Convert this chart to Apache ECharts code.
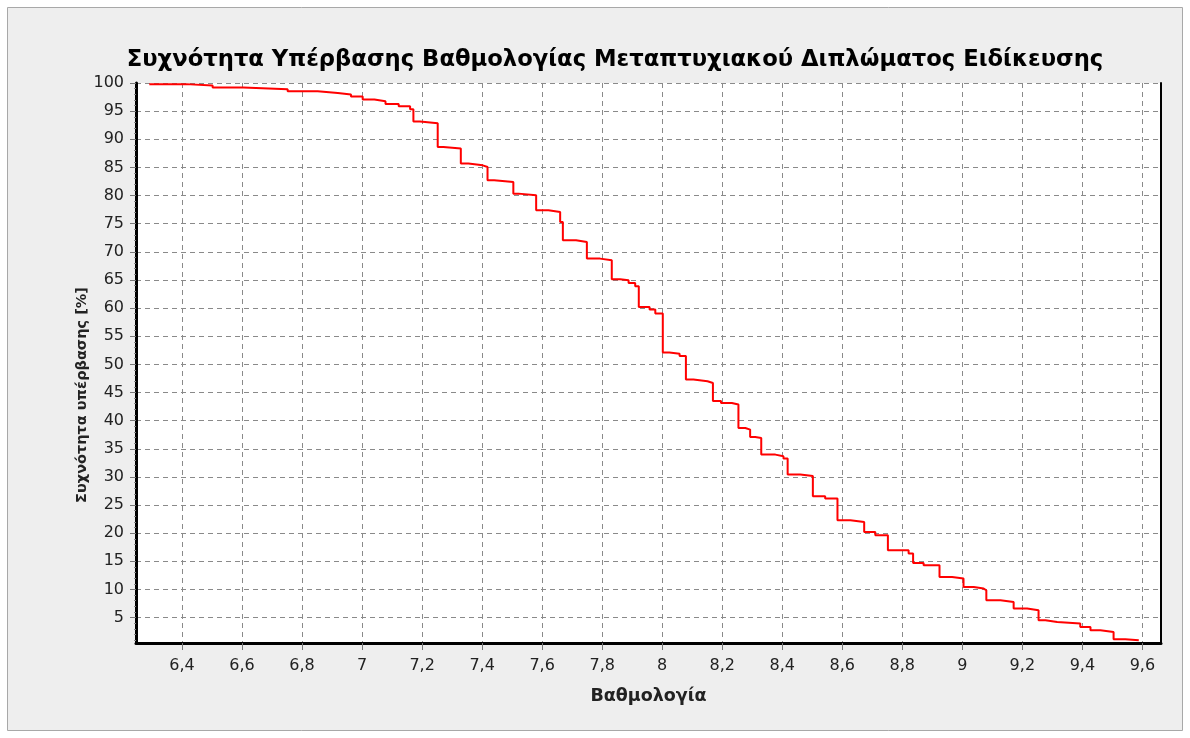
<!DOCTYPE html>
<html>
<head>
<meta charset="utf-8">
<script src="https://cdn.jsdelivr.net/npm/echarts@6/dist/echarts.min.js"></script>
<style>
  html, body { margin: 0; padding: 0; background: #fff; }
  #main { width: 1190px; height: 738px; }
</style>
</head>
<body>
<div id="main"></div>
<script>
// grade (x) and exceedance frequency in % (y)
var grades = [6.291, 6.413, 6.502, 6.604, 6.752, 6.852, 6.919, 6.963, 7.002, 7.041,
  7.078, 7.122, 7.160, 7.171, 7.193, 7.252, 7.271, 7.329, 7.354, 7.402,
  7.418, 7.440, 7.504, 7.521, 7.580, 7.621, 7.660, 7.669, 7.713, 7.749,
  7.793, 7.832, 7.860, 7.888, 7.910, 7.922, 7.958, 7.977, 8.002, 8.024,
  8.058, 8.079, 8.104, 8.151, 8.169, 8.196, 8.232, 8.254, 8.277, 8.293,
  8.310, 8.330, 8.377, 8.404, 8.418, 8.460, 8.502, 8.543, 8.584, 8.627,
  8.673, 8.710, 8.752, 8.821, 8.836, 8.871, 8.924, 8.966, 9.004, 9.038,
  9.071, 9.080, 9.127, 9.171, 9.216, 9.254, 9.277, 9.316, 9.393, 9.427,
  9.460, 9.504, 9.543, 9.588];
var exceedance = [99.8, 99.54, 99.18, 98.88, 98.52, 98.22, 97.94, 97.58, 97.05, 96.75,
  96.27, 95.86, 95.33, 93.16, 92.84, 88.63, 88.34, 85.68, 85.37, 85.07,
  82.71, 82.41, 80.34, 80.04, 77.38, 77.08, 75.3, 72.05, 71.74, 68.79,
  68.49, 65.11, 64.94, 64.46, 63.87, 60.19, 59.73, 59.02, 52.09, 51.87,
  51.48, 47.29, 46.99, 46.69, 43.49, 43.13, 42.85, 38.69, 38.4, 37.09,
  36.91, 33.96, 33.66, 33.25, 30.41, 30.16, 26.55, 26.14, 22.29, 21.98,
  20.21, 19.62, 16.96, 16.37, 14.7, 14.29, 12.21, 11.93, 10.43, 10.15,
  9.85, 8.08, 7.77, 6.6, 6.29, 4.52, 4.21, 3.93, 3.32, 2.74,
  2.44, 1.15, 0.97, 0.97];

var xTicks = [6.4, 6.6, 6.8, 7, 7.2, 7.4, 7.6, 7.8, 8, 8.2, 8.4, 8.6, 8.8, 9, 9.2, 9.4, 9.6];
var yTicks = [5, 10, 15, 20, 25, 30, 35, 40, 45, 50, 55, 60, 65, 70, 75, 80, 85, 90, 95, 100];

// small unlabelled ticks on the y axis, one per unit
var yMinor = [];
for (var k = 1; k < 100; k++) { if (k % 5) yMinor.push(k); }

var points = grades.map(function (g, i) { return [g, exceedance[i]]; });

var gridDash = { color: '#8a8a8a', width: 1, type: [5, 4] };
var labelFont = { color: '#222', fontSize: 16, fontFamily: 'DejaVu Sans' };

var myChart = echarts.init(document.getElementById('main'));

var option = {
  animation: false,
  backgroundColor: '#fff',
  graphic: [{
    type: 'rect',
    z: -10,
    shape: { x: 7.5, y: 7.5, width: 1175, height: 723 },
    style: { fill: '#eeeeee', stroke: '#a8a8a8', lineWidth: 1 }
  }, {
    type: 'text',
    x: 82, y: 395,
    rotation: Math.PI / 2,
    style: {
      text: 'Συχνότητα υπέρβασης [%]',
      fill: '#222', font: 'bold 14.5px "DejaVu Sans"',
      align: 'center', verticalAlign: 'middle'
    }
  }],
  title: {
    text: 'Συχνότητα Υπέρβασης Βαθμολογίας Μεταπτυχιακού Διπλώματος Ειδίκευσης',
    left: 610,
    textAlign: 'center',
    top: 44,
    textStyle: { color: '#000', fontSize: 22.7, fontWeight: 'bold', fontFamily: 'DejaVu Sans' }
  },
  grid: {
    left: 136, right: 29, top: 83, bottom: 95,
    show: true, backgroundColor: '#fff', borderWidth: 0
  },
  xAxis: [{
    type: 'value',
    min: 6.2467, max: 9.662,
    name: 'Βαθμολογία',
    nameLocation: 'middle',
    nameGap: 44,
    nameTextStyle: { color: '#222', fontSize: 17.5, fontWeight: 'bold', fontFamily: 'DejaVu Sans' },
    axisLine: { show: true, onZero: false, lineStyle: { color: '#000', width: 3 } },
    axisTick: { show: true, length: 7, customValues: xTicks, lineStyle: { color: '#777' } },
    axisLabel: Object.assign({ margin: 15, customValues: xTicks,
      formatter: function (v) { return String(v).replace('.', ','); } }, labelFont),
    splitLine: { show: true, lineStyle: gridDash }
  }],
  yAxis: [{
    type: 'value',
    min: 0.48, max: 100,
    axisLine: { show: true, onZero: false, lineStyle: { color: '#000', width: 3 } },
    axisTick: { show: true, length: 6, customValues: yTicks, lineStyle: { color: '#777' } },
    axisLabel: Object.assign({ margin: 12, customValues: yTicks }, labelFont),
    splitLine: { show: true, lineStyle: gridDash }
  }, {
    type: 'value',
    position: 'right',
    min: 0.48, max: 100,
    axisLine: { show: true, lineStyle: { color: '#000', width: 2 } },
    axisTick: { show: false },
    axisLabel: { show: false },
    splitLine: { show: false }
  }, {
    type: 'value',
    position: 'left',
    min: 0.48, max: 100,
    axisLine: { show: false },
    axisTick: { show: true, length: 2, customValues: yMinor, lineStyle: { color: '#888' } },
    axisLabel: { show: false },
    splitLine: { show: false }
  }],
  series: [{
    type: 'line',
    step: 'end',
    showSymbol: false,
    data: points,
    lineStyle: { color: '#ff0000', width: 2 },
    z: 5
  }]
};

myChart.setOption(option);
</script>
</body>
</html>
